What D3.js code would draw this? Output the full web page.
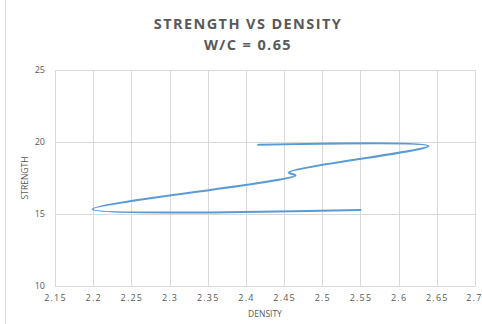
<!DOCTYPE html>
<html>
<head>
<meta charset="utf-8">
<script src="https://cdn.jsdelivr.net/npm/d3@7"></script>
<style>
  body { margin: 0; background: #fff; }
  text { font-family: "Open Sans", "Noto Sans", sans-serif; fill: #595959; }
</style>
</head>
<body>
<div id="chart"></div>
<script>
// data
var density  = [2.55, 2.199, 2.465, 2.456, 2.639, 2.416];
var strength = [15.28, 15.33, 17.68, 17.88, 19.72, 19.81];
var x_ticks = [2.15, 2.2, 2.25, 2.3, 2.35, 2.4, 2.45, 2.5, 2.55, 2.6, 2.65, 2.7];
var y_ticks = [10, 15, 20, 25];
var title_lines = ["STRENGTH VS DENSITY", "W/C = 0.65"];

var chart_width  = 482;
var chart_height = 324;
var plot_left = 55, plot_right = 475, plot_top = 70, plot_bottom = 286;

var svg = d3.select('#chart')
    .append('svg')
    .attr('width', chart_width)
    .attr('height', chart_height);

// chart area border (only left edge shows)
svg.append('line')
    .attr('x1', 5.5).attr('x2', 5.5)
    .attr('y1', 0).attr('y2', chart_height)
    .attr('stroke', '#d9d9d9');

var x_scale = d3.scaleLinear().domain([2.15, 2.7]).range([plot_left, plot_right]);
var y_scale = d3.scaleLinear().domain([10, 25]).range([plot_bottom, plot_top]);

// gridlines
svg.append('g').selectAll('line')
    .data(x_ticks).enter().append('line')
    .attr('x1', function(d) { return Math.round(x_scale(d)) + 0.5; })
    .attr('x2', function(d) { return Math.round(x_scale(d)) + 0.5; })
    .attr('y1', plot_top).attr('y2', plot_bottom)
    .attr('stroke', '#d9d9d9');

svg.append('g').selectAll('line')
    .data(y_ticks).enter().append('line')
    .attr('y1', function(d) { return Math.round(y_scale(d)) + 0.5; })
    .attr('y2', function(d) { return Math.round(y_scale(d)) + 0.5; })
    .attr('x1', plot_left).attr('x2', plot_right)
    .attr('stroke', '#d9d9d9');

// axes (labels only)
var x_axis = d3.axisBottom(x_scale).tickValues(x_ticks).tickSize(0).tickPadding(9)
    .tickFormat(function(d) { return String(+d.toFixed(2)); });
var gx = svg.append('g')
    .attr('transform', 'translate(0,' + plot_bottom + ')')
    .call(x_axis);
gx.select('.domain').remove();
gx.selectAll('text')
    .style('font-size', '9px')
    .style('letter-spacing', '1.2px')
    .style('fill', '#595959');
// keep the last label inside the window
gx.selectAll('.tick:last-of-type text').attr('text-anchor', 'end').attr('x', 7);

var y_axis = d3.axisLeft(y_scale).tickValues(y_ticks).tickSize(0).tickPadding(10);
var gy = svg.append('g')
    .attr('transform', 'translate(' + plot_left + ',0)')
    .call(y_axis);
gy.select('.domain').remove();
gy.selectAll('text')
    .style('font-size', '9px')
    .style('fill', '#595959');

// titles
svg.append('g').selectAll('text')
    .data(title_lines).enter().append('text')
    .attr('x', 248)
    .attr('y', function(d, i) { return 29 + i * 21; })
    .attr('text-anchor', 'middle')
    .style('font-size', '14.5px')
    .style('font-weight', 'bold')
    .style('letter-spacing', '1.4px')
    .text(function(d) { return d; });

svg.append('text')
    .attr('x', (plot_left + plot_right) / 2)
    .attr('y', 317)
    .attr('text-anchor', 'middle')
    .style('font-size', '8.5px')
    .text('DENSITY');

svg.append('text')
    .attr('transform', 'translate(28,' + (plot_top + plot_bottom) / 2 + ') rotate(-90)')
    .attr('text-anchor', 'middle')
    .style('font-size', '8.5px')
    .text('STRENGTH');

// the smoothed line
var line = d3.line()
    .x(function(d, i) { return x_scale(density[i]); })
    .y(function(d, i) { return y_scale(strength[i]); })
    .curve(d3.curveCatmullRom.alpha(0.5));

svg.append('path')
    .datum(density)
    .attr('fill', 'none')
    .attr('stroke', '#5b9bd5')
    .attr('stroke-width', 2)
    .attr('stroke-linecap', 'round')
    .attr('d', line);
</script>
</body>
</html>
